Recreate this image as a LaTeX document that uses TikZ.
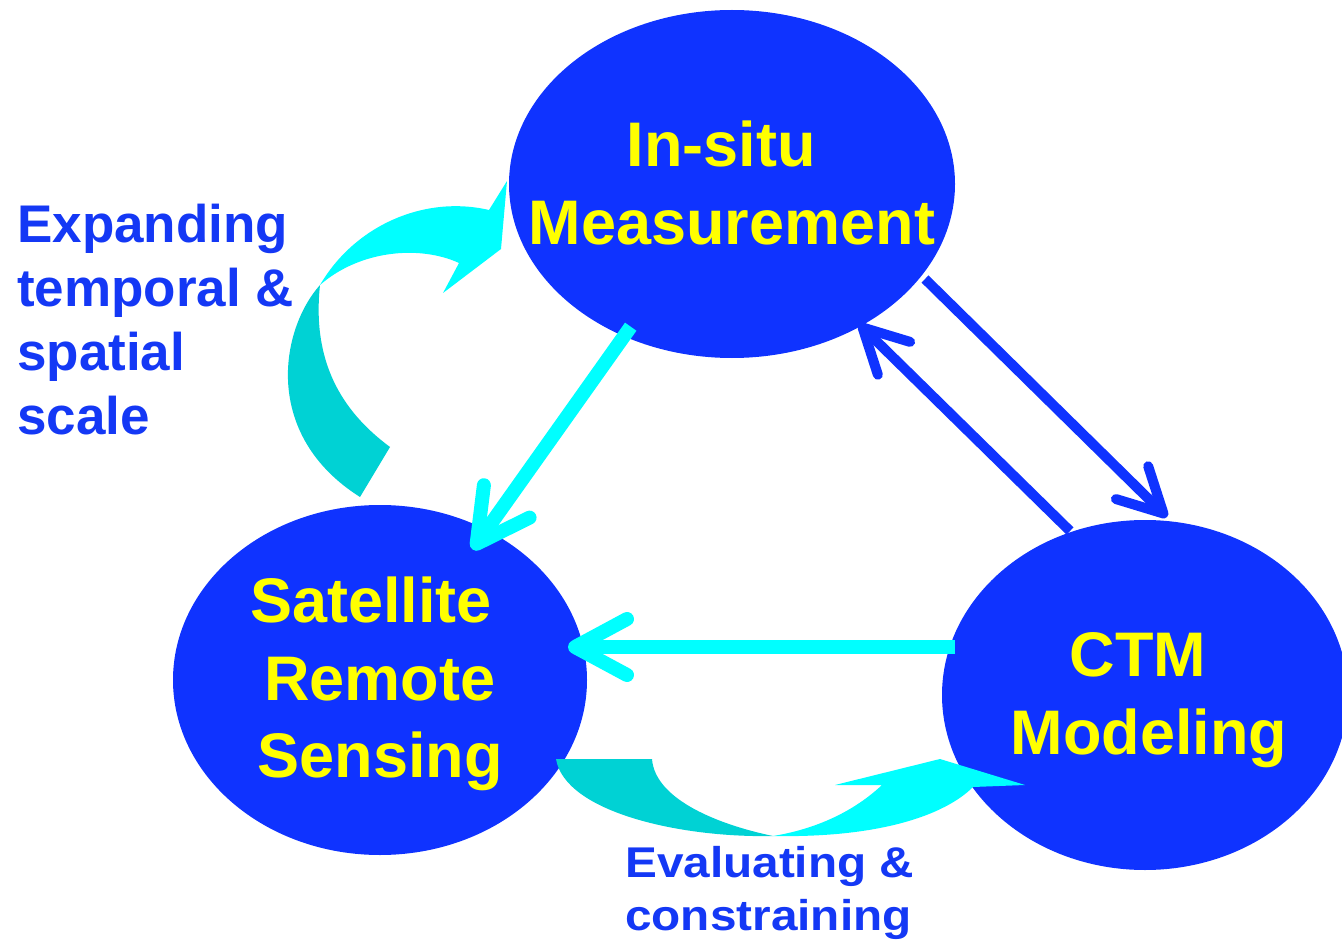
\documentclass[tikz,border=0pt]{standalone}
\usepackage{fontspec}
\setmainfont{Liberation Sans}
\newfontfamily\widesans[FakeStretch=1.11]{Liberation Sans}
\usetikzlibrary{arrows.meta,shapes.geometric}
\definecolor{ovalblue}{RGB}{15,51,255}
\definecolor{notecolor}{RGB}{20,56,245}
\definecolor{flowcyan}{RGB}{0,255,255}
\definecolor{shadecyan}{RGB}{0,210,212}
\definecolor{labelyellow}{RGB}{255,255,0}
\begin{document}
\begin{tikzpicture}[x=1pt,y=-1pt,
  bubble/.style={ellipse, fill=ovalblue, draw=none, inner sep=0pt},
  bubbletext/.style={text=labelyellow, align=center, inner sep=0pt,
    font=\fontsize{63}{77.5}\selectfont\bfseries},
  note/.style={text=notecolor, align=left, inner sep=0pt, anchor=north west},
  cyanflow/.style={draw=flowcyan, line width=14pt,
    -{Straight Barb[length=52pt,width=56pt,round]}},
  blueflow/.style={draw=ovalblue, line width=10pt,
    -{Straight Barb[length=44pt,width=46pt,round]}},
]
\clip (0,0) rectangle (1342,944);

% the three stations
\node[bubble, minimum width=446pt, minimum height=348pt] (ins) at (732,184) {};
\node[bubble, minimum width=414pt, minimum height=350pt] (sat) at (380,680) {};
\node[bubble, minimum width=406pt, minimum height=350pt] (ctm) at (1145,695) {};

% curved block arrow on the left (shaded back, bright front with head)
\fill[shadecyan] (360,497) -- (390,447)
  .. controls (340,410) and (312,360) .. (320,285)
  .. controls (280,330) and (262,435) .. (360,497) -- cycle;
\fill[flowcyan] (320,285)
  .. controls (355,225) and (425,195) .. (489,210)
  -- (507,181) -- (501,249) -- (443,293) -- (459,263)
  .. controls (420,245) and (360,250) .. (320,285) -- cycle;

% curved block arrow at the bottom
\fill[shadecyan] (556,759) -- (652,759)
  .. controls (655,800) and (720,825) .. (773,836)
  .. controls (680,838) and (565,812) .. (556,759) -- cycle;
\fill[flowcyan] (773,836)
  .. controls (880,838) and (945,815) .. (973,787)
  -- (1025,785) -- (940,759) -- (835,785) -- (882,785)
  .. controls (850,815) and (810,830) .. (773,836) -- cycle;

% straight connectors
\coordinate (hS) at (955,647);
\coordinate (hE) at (568,647);
\coordinate (aS) at (925,279);
\coordinate (aE) at (1167,517);
\coordinate (bS) at (1070,531);
\coordinate (bE) at (859,324);
\draw[cyanflow, shorten <=175pt, shorten >=160pt] (ins.center) -- (sat.center);
\draw[cyanflow] (hS) -- (hE);
\draw[blueflow] (aS) -- (aE);
\draw[blueflow] (bS) -- (bE);

% station labels
\node[bubbletext] (insT) at (732,183) {In-situ\rule{22pt}{0pt}\\Measurement};
\node[bubbletext] (satT) at (380,684) {Satellite\rule{18pt}{0pt}\\Remote\\Sensing};
\node[bubbletext] (ctmT) at (1145,700) {CTM\rule{14pt}{0pt}\\\rule{8pt}{0pt}Modeling};

% side notes
\node[note, font=\fontsize{53}{64}\selectfont\bfseries] (noteL) at (17,204)
  {Expanding\\temporal \&\\spatial\\scale};
\node[note, font=\widesans\fontsize{43}{53}\selectfont\bfseries] (noteB) at (625,846)
  {Evaluating \&\\constraining};
\end{tikzpicture}
\end{document}
